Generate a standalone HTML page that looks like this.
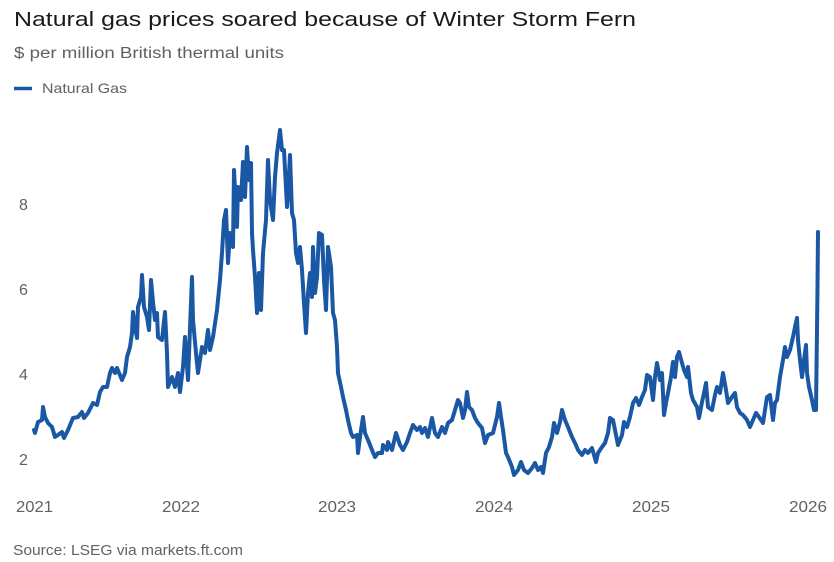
<!DOCTYPE html>
<html>
<head>
<meta charset="utf-8">
<style>
html,body{margin:0;padding:0;background:#fff;}
svg{display:block;}
</style>
</head>
<body>
<svg width="834" height="562" viewBox="0 0 834 562" xmlns="http://www.w3.org/2000/svg">
<rect width="834" height="562" fill="#ffffff"/>
<text x="14" y="26" font-family="Liberation Sans, sans-serif" font-size="20" fill="#1a1a1a" textLength="622" lengthAdjust="spacingAndGlyphs">Natural gas prices soared because of Winter Storm Fern</text>
<text x="14" y="58" font-family="Liberation Sans, sans-serif" font-size="15.5" fill="#66605c" textLength="270" lengthAdjust="spacingAndGlyphs">$ per million British thermal units</text>
<line x1="14" y1="88.5" x2="32" y2="88.5" stroke="#1a58a5" stroke-width="3.5"/>
<text x="42" y="93" font-family="Liberation Sans, sans-serif" font-size="14" fill="#66605c" textLength="85" lengthAdjust="spacingAndGlyphs">Natural Gas</text>

<g font-family="Liberation Sans, sans-serif" font-size="16" fill="#66605c">
<text x="19" y="210">8</text>
<text x="19" y="295">6</text>
<text x="19" y="380">4</text>
<text x="19" y="465">2</text>
<text x="16" y="512" textLength="37" lengthAdjust="spacingAndGlyphs">2021</text>
<text x="162" y="512" textLength="38" lengthAdjust="spacingAndGlyphs">2022</text>
<text x="318" y="512" textLength="38" lengthAdjust="spacingAndGlyphs">2023</text>
<text x="475" y="512" textLength="38" lengthAdjust="spacingAndGlyphs">2024</text>
<text x="632" y="512" textLength="38" lengthAdjust="spacingAndGlyphs">2025</text>
<text x="789" y="512" textLength="38" lengthAdjust="spacingAndGlyphs">2026</text>
</g>

<text x="13" y="555" font-family="Liberation Sans, sans-serif" font-size="15" fill="#66605c" textLength="230" lengthAdjust="spacingAndGlyphs">Source: LSEG via markets.ft.com</text>

<polyline fill="none" stroke="#1a58a5" stroke-width="4" stroke-linejoin="round" stroke-linecap="round" points="
34,430 35,433 38,422 42,420 43,407 45,417 48,423 52,427 55,437 58,435 62,432 64,438 68,430 73,418 78,417 82,412 84,418 88,413 93,403 97,405 100,392 103,387 107,387 110,373 112,368 115,373 117,368 122,380 125,373 127,357 130,347 132,333 133,312 135,327 137,338 138,307 141,297 142,275 144,307 147,317 149,330 151,280 153,302 155,320 157,313 158,337 162,340 165,312 167,353 168,387 172,377 175,387 178,373 180,392 183,367 185,337 188,380 192,277 193,320 196,353 198,373 200,360 202,347 205,353 208,330 210,350 213,337 217,310 220,280 222,253 224,220 226,210
228,263 230,233 233,247 234,170 237,227 238,187 241,200 243,162 245,197 247,147 249,180 251,163 252,233 253,250 255,277 257,313 259,273 261,310 263,253 266,220 268,160 270,200 273,220 275,177 277,153 280,130 282,150 284,150 287,207 288,193 290,155 292,213 294,220 296,253 298,263 300,247 302,270 304,303 306,333 308,293 310,273 312,297 313,247 315,293 317,277 319,233 322,235 324,280 326,310 328,247 331,267 333,313 335,320 337,347 338,373 341,387 343,397 346,410 348,420 351,433 353,437 357,435 358,453 360,437 363,417 365,433 368,440 372,450 375,457 378,453 382,453 383,445 387,450 388,442 392,450 396,433 400,445 403,450 407,442 410,433 413,425 417,430 420,427
422,433 425,428 428,437 432,418 435,433 438,437 442,427 445,433 448,423 452,420 455,410 458,400 460,403 463,418 465,410 467,392 469,407 472,410 475,418 478,423 482,428 485,443 488,435 493,433 497,417 499,403 501,417 503,430 506,453 508,457 512,467 514,475 518,470 521,462 524,470 528,473 532,468 535,463 538,470 541,467 543,473 546,453 549,447 552,437 554,423 557,433 560,422 562,410 565,420 568,427 572,437 575,443 578,450 582,455 585,450 588,453 592,448 596,462 598,453 602,447 605,443 608,433 610,418 613,420 615,430 618,445 622,435 624,422
627,427 630,417 633,403 636,398 639,405 642,397 645,390 647,375 650,377 653,400 655,377 657,363 660,380 662,373 664,415 666,403 668,393 671,377 673,362 675,377 677,357 679,352 682,363 684,370 687,377 688,367 691,393 693,400 697,407 699,418 702,402 704,393 706,383 708,407 712,410 715,395 717,387 720,393 723,373 726,390 728,403 732,397 735,393 737,407 740,413 743,415 747,420 750,427 753,420 756,413 759,417 763,423 765,410 767,397 770,395 773,420 775,403 777,400 780,377 783,360 785,347 787,357 790,350 793,337 795,327 797,318 798,340 800,360 802,377 804,360 806,345 807,373 809,387 812,400 814,410 816,410 817,330 817.5,287 818,232"/>
</svg>
</body>
</html>
